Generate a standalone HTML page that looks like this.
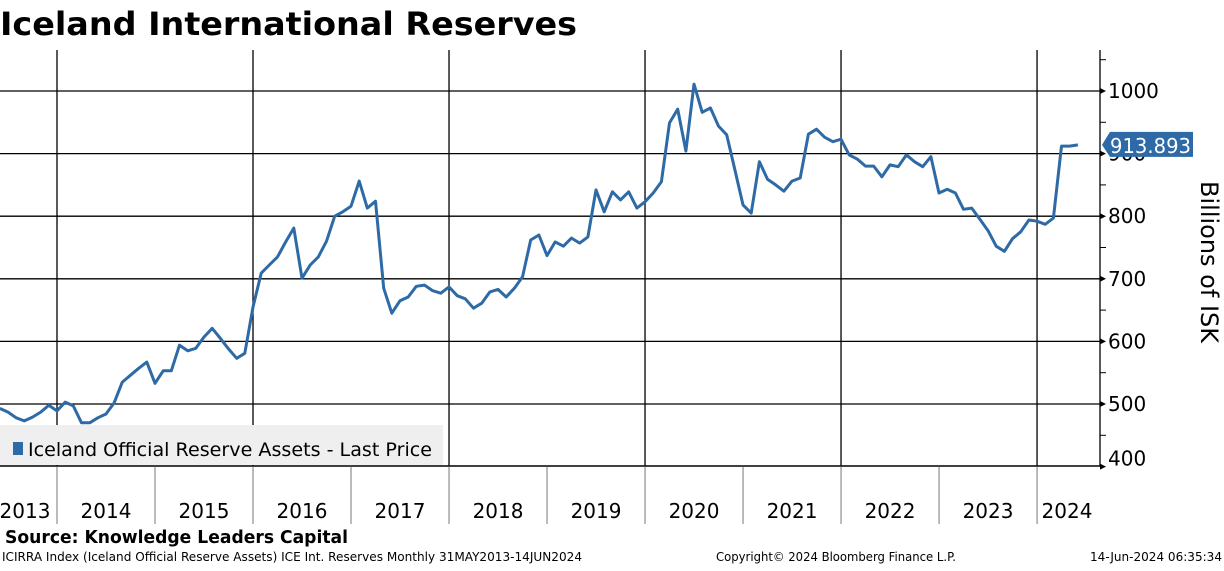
<!DOCTYPE html>
<html><head><meta charset="utf-8"><style>
html,body{margin:0;padding:0;background:#fff;}
svg text{font-family:"DejaVu Sans","Liberation Sans",sans-serif;}
</style></head><body>
<svg id="chart" width="1224" height="566" viewBox="0 0 1224 566" xmlns="http://www.w3.org/2000/svg">
<text x="0" y="35" font-size="32" font-weight="bold" textLength="577" lengthAdjust="spacingAndGlyphs">Iceland International Reserves</text>
<g id="grid"></g>
<g id="xaxis"></g>
<g id="yaxis"></g>
<g id="series"></g>
<g>
<rect x="0" y="425" width="443" height="40" fill="#efefef"/>
<rect x="13" y="442" width="10" height="13" fill="#2e6aa6"/>
<text x="28" y="456" font-size="19" textLength="404" lengthAdjust="spacingAndGlyphs">Iceland Official Reserve Assets - Last Price</text>
</g>
<text transform="translate(1201,262) rotate(90)" text-anchor="middle" font-size="24">Billions of ISK</text>
<text x="5" y="543" font-size="18" font-weight="bold" textLength="343" lengthAdjust="spacingAndGlyphs">Source: Knowledge Leaders Capital</text>
<text x="2" y="561" font-size="12" textLength="580" lengthAdjust="spacingAndGlyphs">ICIRRA Index (Iceland Official Reserve Assets) ICE Int. Reserves  Monthly 31MAY2013-14JUN2024</text>
<text x="716" y="561" font-size="12" textLength="240" lengthAdjust="spacingAndGlyphs">Copyright© 2024 Bloomberg Finance L.P.</text>
<text x="1090" y="561" font-size="12" textLength="132" lengthAdjust="spacingAndGlyphs">14-Jun-2024 06:35:34</text>
</svg>
<script>
const yTicks = [400,500,600,700,800,900,1000];
const years = [2013,2014,2015,2016,2017,2018,2019,2020,2021,2022,2023,2024];
const startMonth = 5; // June 2013, months since Jan 2013
const values2013 = [493,487,478,473,479,487,498];
const values2014 = [489,503,497,470,470,478,484,502,535,546,557,567];
const values2015 = [533,553,553,594,585,589,607,621,605,588,573,581];
const values2016 = [655,709,722,735,759,781,701,722,735,760,800,807];
const values2017 = [816,856,813,824,685,645,665,671,688,690,681,677];
const values2018 = [687,673,668,653,661,679,683,671,685,703,762,770];
const values2019 = [737,759,752,765,757,767,842,807,839,826,839,813];
const values2020 = [823,837,855,949,971,904,1011,966,973,944,930,874];
const values2021 = [818,805,887,859,850,840,856,861,931,939,926,919];
const values2022 = [923,898,891,880,880,863,882,879,898,887,879,895];
const values2023 = [837,843,837,811,813,795,777,752,744,764,775,794];
const values2024 = [792,787,797,912,912,913.893];
const series = [].concat(values2013,values2014,values2015,values2016,values2017,values2018,values2019,values2020,values2021,values2022,values2023,values2024);
const lastLabel = "913.893";

const NS="http://www.w3.org/2000/svg";
const PL=0, PR=1100, PT=50, PB=466;
function xs(m){return 57+(m-12)*8.167;}
function ys(v){return 91+(1000-v)*0.626;}
function mk(tag,attrs,parent){const e=document.createElementNS(NS,tag);for(const k in attrs)e.setAttribute(k,attrs[k]);parent.appendChild(e);return e;}
const grid=document.getElementById('grid'),xa=document.getElementById('xaxis'),ya=document.getElementById('yaxis'),sl=document.getElementById('series');

yTicks.forEach(t=>{
  const y=ys(t);
  if(t>400){const l=mk('line',{x1:PL,x2:PR,y1:y,y2:y,stroke:'#000','stroke-width':1.3},grid);
  
  }
  const tk=mk('path',{d:`M${PR},${y-3} L${PR+6},${y} L${PR},${y+3}Z`,fill:'#000'},ya);
  
  
  const tx=mk('text',{x:PR+8,y:(t===400?y-1:y+7),'font-size':20},ya);
  tx.textContent=t;
  
  
});
for(let v=450;v<=1050;v+=100){const y=ys(v);mk('line',{x1:PR,x2:PR+6,y1:y,y2:y,stroke:'#000','stroke-width':1},ya);}
mk('line',{x1:PR,x2:PR,y1:PT,y2:PB,stroke:'#000','stroke-width':1.3},ya);
mk('line',{x1:PL,x2:PR,y1:PB,y2:PB,stroke:'#000','stroke-width':1.5},xa);

years.forEach((yr,i)=>{
  const m=(yr-2013)*12;
  const x=xs(m);
  if(yr>2013){
    if((yr%2)===0){const g=mk('line',{x1:x,x2:x,y1:PT,y2:PB,stroke:'#000','stroke-width':1.3},grid);
      
      }
    mk('line',{x1:x,x2:x,y1:PB,y2:524,stroke:'#555','stroke-width':0.8},xa);
  }
  let cx = x+49;
  if(yr===2013) cx=25;
  if(yr===2024) cx=1067;
  const t=mk('text',{x:cx,y:518,'font-size':20,'text-anchor':'middle'},xa);
  t.textContent=yr;
  
  
});

let d='';
series.forEach((v,i)=>{d+=(i?'L':'M')+xs(startMonth+i).toFixed(1)+','+ys(v).toFixed(1);});
const p=mk('path',{d:d,fill:'none',stroke:'#2e6aa6','stroke-width':3,'stroke-linejoin':'round'},sl);



const lv=series[series.length-1], ly=ys(lv);
const tag=mk('path',{d:`M1102,${ly} L1110,${ly-13} L1193,${ly-13} L1193,${ly+12} L1110,${ly+12}Z`,fill:'#2e6aa6'},sl);


const tt=mk('text',{x:1110,y:ly+8,'font-size':20,fill:'#fff',textLength:81,lengthAdjust:'spacingAndGlyphs'},sl);
tt.textContent=lastLabel;


</script>
</body></html>
